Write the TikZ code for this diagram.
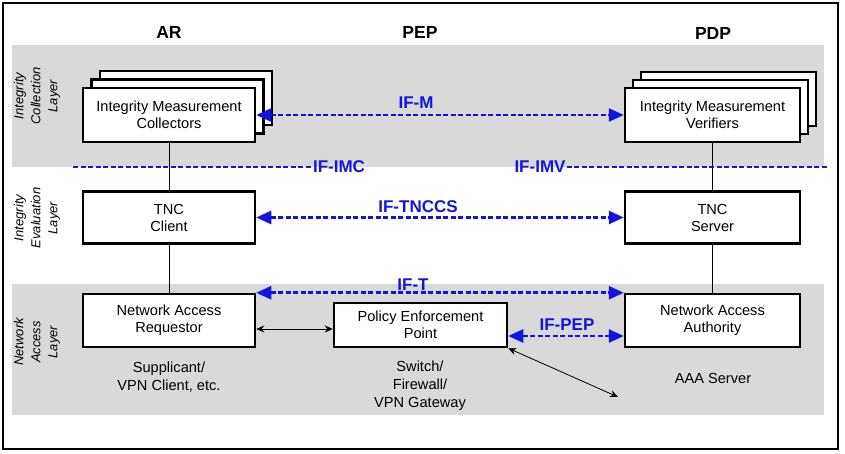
\documentclass[tikz,border=0pt]{standalone}
\usepackage{fontspec}
\setmainfont{Liberation Sans}
\usetikzlibrary{arrows.meta}
\definecolor{bandgray}{RGB}{217,217,217}
\definecolor{ifblue}{RGB}{20,20,225}
\begin{document}
\begin{tikzpicture}[x=1pt,y=-1pt,
 box/.style={draw,line width=2.5pt,fill=white,minimum width=172pt,minimum height=54pt,inner sep=0pt,align=center,font=\fontsize{14.6}{17}\selectfont},
 hdr/.style={font=\fontsize{17.5}{20}\selectfont\bfseries},
 iflab/.style={font=\fontsize{17}{20}\selectfont\bfseries,text=ifblue,inner sep=1pt},
 ifline/.style={ifblue,line width=2.6pt,dash pattern=on 5pt off 2.5pt},
 ifarrow/.style={ifline,{Triangle[length=15pt,width=13pt]}-{Triangle[length=15pt,width=13pt]}},
 side/.style={rotate=90,align=center,font=\fontsize{13}{17}\selectfont\itshape},
 note/.style={align=center,font=\fontsize{14.6}{18}\selectfont},
 link/.style={line width=0.8pt},
 biarrow/.style={link,{Stealth[length=8pt,width=7pt]}-{Stealth[length=8pt,width=7pt]}}]

\useasboundingbox (0,0) rectangle (845,454);
\fill[bandgray] (12,45) rectangle (824,167);
\fill[bandgray] (12,284) rectangle (824,415);
\draw[line width=2pt] (3,3) rectangle (838,449);

% headers
\node[hdr] (har) at (169,32) {AR};
\node[hdr] (hpep) at (420,32) {PEP};
\node[hdr] (hpdp) at (713,33) {PDP};

% side labels
\node[side] (l1) at (37,96) {Integrity\\Collection\\Layer};
\node[side] (l2) at (37,218) {Integrity\\Evaluation\\Layer};
\node[side] (l3) at (37,342) {Network\\Access\\Layer};

% stacks
\node[box] (imc3) at (186,98) {};
\node[box] (imc2) at (177.5,106.5) {};
\node[box] (imc) at (169,115) {Integrity Measurement\\Collectors};
\node[box,minimum width=175pt] (imv3) at (728.5,99) {};
\node[box,minimum width=175pt] (imv2) at (720.5,107) {};
\node[box,minimum width=175pt] (imv) at (712.5,115) {Integrity Measurement\\Verifiers};

\node[box,minimum height=52pt] (tncc) at (169,217.5) {TNC\\Client};
\node[box,minimum width=175pt,minimum height=52pt] (tncs) at (712.5,217.5) {TNC\\Server};

\node[box,minimum height=53pt] (nar) at (169,320.5) {Network Access\\Requestor};
\node[box,minimum width=173pt,minimum height=44pt] (pep) at (420.5,325) {Policy Enforcement\\Point};
\node[box,minimum width=175pt,minimum height=53pt] (naa) at (712.5,320.5) {Network Access\\Authority};

% vertical links
\draw[link] (imc.south) -- (tncc.north);
\draw[link] (tncc.south) -- (nar.north);
\draw[link] (imv.south) -- (tncs.north);
\draw[link] (tncs.south) -- (naa.north);

% interfaces
\draw[ifarrow] (imc.east) -- (imv.west);
\node[iflab] (ifm) at (416,103) {IF-M};
\draw[ifarrow] (tncc.east) -- (tncs.west);
\node[iflab] (iftnccs) at (418,207) {IF-TNCCS};
\draw[ifarrow] (nar.north east) -- (naa.north west);
\node[iflab] (ift) at (413,285) {IF-T};
\draw[ifarrow] ([yshift=-11pt]pep.east) -- ([yshift=-11pt]pep.east -| naa.west);
\node[iflab] (ifpep) at (567,325) {IF-PEP};

\node[iflab] (ifimc) at (339,167) {IF-IMC};
\coordinate (imcl) at (73,167);
\draw[ifline] (imcl) -- (ifimc.west);
\node[iflab] (ifimv) at (540,167) {IF-IMV};
\coordinate (imvr) at (828,167);
\draw[ifline] (ifimv.east) -- (imvr);

% black arrows
\draw[biarrow] ([yshift=-8.5pt]nar.east) -- ([yshift=-8.5pt]nar.east -| pep.west);
\coordinate (dg) at (618,397);
\draw[biarrow] (pep.south east) -- (dg);

% notes
\node[note] (n1) at (169,377) {Supplicant/\\VPN Client, etc.};
\node[note] (n2) at (420,386) {Switch/\\Firewall/\\VPN Gateway};
\node[note] (n3) at (713,378) {AAA Server};
\end{tikzpicture}
\end{document}
